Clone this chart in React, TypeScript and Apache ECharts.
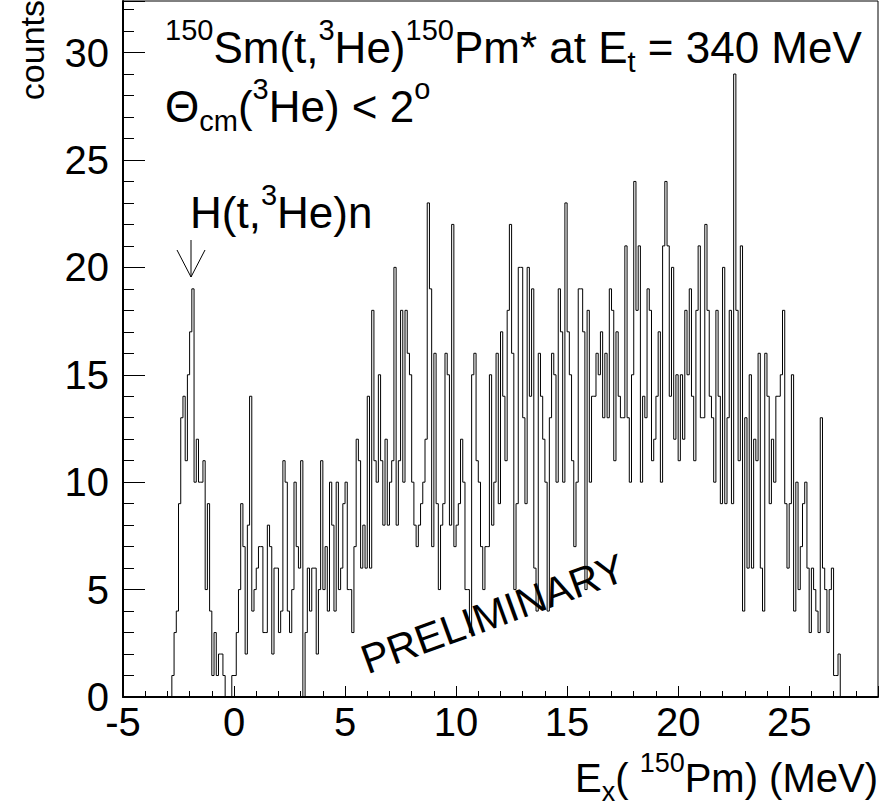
import React, { useEffect, useRef } from 'react';
import * as echarts from 'echarts';

// Histogram: bins of 0.1 MeV starting at Ex = -3.0 MeV
const binStart = -3.0;
const binWidth = 0.1;

// counts, split by Ex region
const countsHydrogenPeak = [0, 0, 1, 3, 4, 9, 13, 14, 11, 15, 17, 19, 10, 12, 10, 10, 11, 5, 9, 4, 1, 3, 1, 2, 2];
const countsLow = [1, 0, 0, 0, 1, 1, 3, 5, 9, 7, 2, 8, 14, 4, 5, 6, 7, 7, 3, 3, 8, 7, 2, 6, 6, 3, 4, 11, 10, 4, 3, 5, 10, 7, 6, 11, 0, 3, 6, 4, 6, 6, 2, 5, 11, 5, 7, 4, 10, 8, 4, 10, 5, 6, 9];
const countsRise = [10, 5, 5, 3, 7, 12, 11, 6, 8, 6, 14, 6, 18, 11, 10, 15, 11, 8, 12, 8, 10, 11, 20, 8, 11, 18, 10, 18, 16, 15, 10, 8, 7, 8, 9, 10, 12, 23, 19, 7, 16, 9, 5, 8, 9, 16, 15, 8, 22, 7, 8, 9, 12, 10, 5, 5, 3];
const countsMid = [15, 16, 11, 10, 7, 5, 7, 7, 15, 8, 10, 16, 9, 17, 14, 11, 18, 22, 16, 5, 9, 20, 20, 13, 9, 20, 14, 19, 6, 4, 16, 14, 12, 10, 4, 13, 16, 15, 10, 19, 17, 10, 23, 17, 15, 11, 7, 10, 19, 19, 17, 5, 18, 10, 14];
const countsHigh = [14, 16, 15, 17, 13, 16, 13, 19, 18, 11, 17, 14, 13, 13, 21, 13, 10, 15, 24, 18, 21, 10, 14, 13, 19, 18, 11, 12, 14, 17, 10, 21, 24, 21, 14, 20, 12, 15, 11, 15, 12, 18, 15, 19, 14, 11, 18, 21, 13, 13, 22, 18, 14, 13, 10, 18];
const countsFall = [14, 9, 20, 9, 13, 18, 9, 29, 18, 11, 21, 4, 13, 6, 15, 6, 12, 11, 16, 6, 4, 16, 14, 9, 12, 10, 14, 14, 15, 18, 9, 6, 9, 15, 4, 10, 5, 7, 9, 10, 6, 3, 6, 5, 4, 3, 13, 6, 5, 3, 5, 6, 1, 1, 2];

const counts = [...countsHydrogenPeak, ...countsLow, ...countsRise, ...countsMid, ...countsHigh, ...countsFall];

const xMin = -5;
const xMax = 29;
const yMin = 0;
const yMax = 32.4;

const FONT = 'Liberation Sans, Arial, Helvetica, sans-serif';
const TICK_FONT = 40;

// rich-text styles: normal (n), superscript (sp), subscript (sb)
function makeRich(F: number, S: number, D: number, R: number, LH: number) {
  const base = { fontFamily: FONT, color: '#000', verticalAlign: 'bottom', lineHeight: LH };
  return {
    n: { ...base, fontSize: F, padding: [0, 0, D, 0] },
    sp: { ...base, fontSize: S, padding: [0, 0, D + R, 0] },
    sb: { ...base, fontSize: S, padding: [0, 0, 0, 0] },
  };
}
const LH = 70;
const richBig = makeRich(44, 29, 7, 25, LH);
const richAxis = makeRich(40, 27, 7, 22, LH);
// baseline of normal text = y + LH - D - 0.1535 * F
const topFor = (baseline: number, F: number, D: number) => baseline - (LH - D - 0.1535 * F);

export default function App() {
  const ref = useRef<HTMLDivElement>(null);
  useEffect(() => {
    document.body.style.margin = '0';
    const chart = echarts.init(ref.current!, null, { renderer: 'svg' });
    const data: [number, number][] = [[xMin, 0]];
    counts.forEach((c, i) => {
      data.push([+(binStart + i * binWidth).toFixed(3), c]);
    });
    data.push([+(binStart + counts.length * binWidth).toFixed(3), 0]);
    data.push([xMax, 0]);

    chart.setOption({
      animation: false,
      grid: {
        left: 123,
        right: 2,
        top: 1,
        bottom: 108,
        show: true,
        borderColor: '#000',
        borderWidth: 1,
        backgroundColor: 'transparent',
        outerBoundsMode: 'none',
      },
      xAxis: {
        type: 'value',
        min: xMin,
        max: xMax,
        interval: 5,
        axisLine: { show: true, onZero: false, lineStyle: { color: '#000', width: 2 } },
        axisTick: { show: true, inside: true, length: 11, lineStyle: { color: '#000', width: 1 } },
        minorTick: { show: true, splitNumber: 5, length: 6, lineStyle: { color: '#000', width: 1 } },
        splitLine: { show: false },
        axisLabel: {
          fontSize: TICK_FONT,
          fontFamily: FONT,
          color: '#000',
          margin: 5,
          formatter: (v: number) => (v > xMax - 1 ? '' : String(v)),
        },
      },
      yAxis: {
        type: 'value',
        min: yMin,
        max: yMax,
        interval: 5,
        axisLine: { show: true, onZero: false, lineStyle: { color: '#000', width: 2 } },
        axisTick: { show: true, inside: true, length: 22, lineStyle: { color: '#000', width: 1 } },
        minorTick: { show: true, splitNumber: 5, length: 11, lineStyle: { color: '#000', width: 1 } },
        splitLine: { show: false },
        axisLabel: {
          fontSize: TICK_FONT,
          fontFamily: FONT,
          color: '#000',
          margin: 14,
          formatter: (v: number) => (v > yMax - 1 ? '' : String(v)),
        },
      },
      series: [
        {
          type: 'line',
          data,
          step: 'end',
          symbol: 'none',
          showSymbol: false,
          silent: true,
          clip: true,
          lineStyle: { color: '#000', width: 1 },
        },
      ],
      graphic: [
        {
          type: 'text',
          x: 165,
          y: topFor(63, 44, 7),
          style: {
            text: '{sp|150}{n|Sm(t,}{sp|3}{n|He)}{sp|150}{n|Pm* at E}{sb|t}{n| = 340 MeV}',
            rich: richBig,
            align: 'left',
            verticalAlign: 'top',
          },
        },
        {
          type: 'text',
          x: 165,
          y: topFor(122, 44, 7),
          style: {
            text: '{n|Θ}{sb|cm}{n|(}{sp|3}{n|He) < 2}{sp|o}',
            rich: richBig,
            align: 'left',
            verticalAlign: 'top',
          },
        },
        {
          type: 'text',
          x: 190,
          y: topFor(228, 44, 7),
          style: {
            text: '{n|H(t,}{sp|3}{n|He)n}',
            rich: richBig,
            align: 'left',
            verticalAlign: 'top',
          },
        },
        {
          type: 'line',
          shape: { x1: 191, y1: 240, x2: 191, y2: 277 },
          style: { stroke: '#000', lineWidth: 1 },
        },
        {
          type: 'polyline',
          shape: { points: [[177, 250], [191, 277], [205, 250]] },
          style: { stroke: '#000', lineWidth: 1, fill: null },
        },
        {
          type: 'text',
          x: 493,
          y: 614,
          rotation: (20 * Math.PI) / 180,
          style: {
            text: 'PRELIMINARY',
            fontSize: 41,
            fontFamily: FONT,
            fill: '#000',
            align: 'center',
            verticalAlign: 'middle',
          },
        },
        {
          type: 'text',
          x: 32,
          y: 0,
          rotation: Math.PI / 2,
          style: {
            text: 'counts',
            fontSize: 34,
            fontFamily: FONT,
            fill: '#000',
            align: 'right',
            verticalAlign: 'middle',
          },
        },
        {
          type: 'text',
          x: 878,
          y: topFor(792, 40, 7),
          style: {
            text: '{n|E}{sb|x}{n|( }{sp|150}{n|Pm) (MeV)}',
            rich: richAxis,
            align: 'right',
            verticalAlign: 'top',
          },
        },
      ],
    });
    return () => chart.dispose();
  }, []);
  return <div ref={ref} style={{ width: 880, height: 805 }} />;
}
